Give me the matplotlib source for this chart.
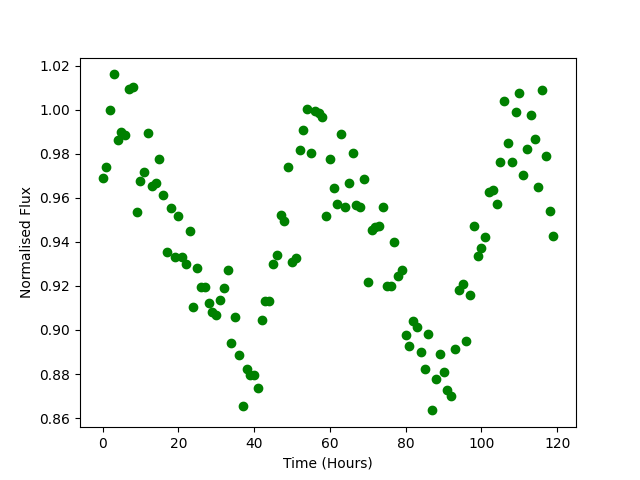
import numpy as np
import matplotlib
matplotlib.use('Agg')
import matplotlib.pyplot as plt

# Tiempo en horas (una medida por hora)
time_hours = np.arange(120)

# Flujo normalizado
flux = [
    0.969, 0.974, 1.000, 1.016, 0.986, 0.990, 0.9885, 1.0094, 1.0103, 0.9535,
    0.9676, 0.9717, 0.9894, 0.9652, 0.9667, 0.9776, 0.9612, 0.9353, 0.9553, 0.9332,
    0.9517, 0.9329, 0.9299, 0.9449, 0.9103, 0.9280, 0.9194, 0.9194, 0.9123, 0.9080,
    0.9067, 0.9138, 0.9190, 0.9271, 0.8940, 0.9058, 0.8886, 0.8655, 0.8823, 0.8795,
    0.8795, 0.8735, 0.9044, 0.9130, 0.9130, 0.9299, 0.9340, 0.9523, 0.9494, 0.9740,
    0.9308, 0.9326, 0.9817, 0.9908, 1.0005, 0.9803, 0.9995, 0.9983, 0.9965, 0.9518,
    0.9777, 0.9644, 0.9571, 0.9890, 0.9558, 0.9667, 0.9803, 0.9567, 0.9558, 0.9685,
    0.9217, 0.9452, 0.9467, 0.9471, 0.9558, 0.9200, 0.9200, 0.9399, 0.9244, 0.9271,
    0.8976, 0.8927, 0.9040, 0.9012, 0.8900, 0.8823, 0.8982, 0.8635, 0.8777, 0.8890,
    0.8808, 0.8727, 0.8700, 0.8914, 0.9180, 0.9208, 0.8950, 0.9159, 0.9471, 0.9335,
    0.9371, 0.9421, 0.9626, 0.9635, 0.9571, 0.9762, 1.0040, 0.9849, 0.9762, 0.9990,
    1.0076, 0.9703, 0.9821, 0.9975, 0.9867, 0.9649, 1.0090, 0.9790, 0.9540, 0.9426,
]

plt.figure(figsize=(6.4, 4.8), dpi=100)
plt.plot(time_hours, flux, 'o', color='green')
plt.xlabel('Time (Hours)')
plt.ylabel('Normalised Flux')
plt.savefig('out.png')
